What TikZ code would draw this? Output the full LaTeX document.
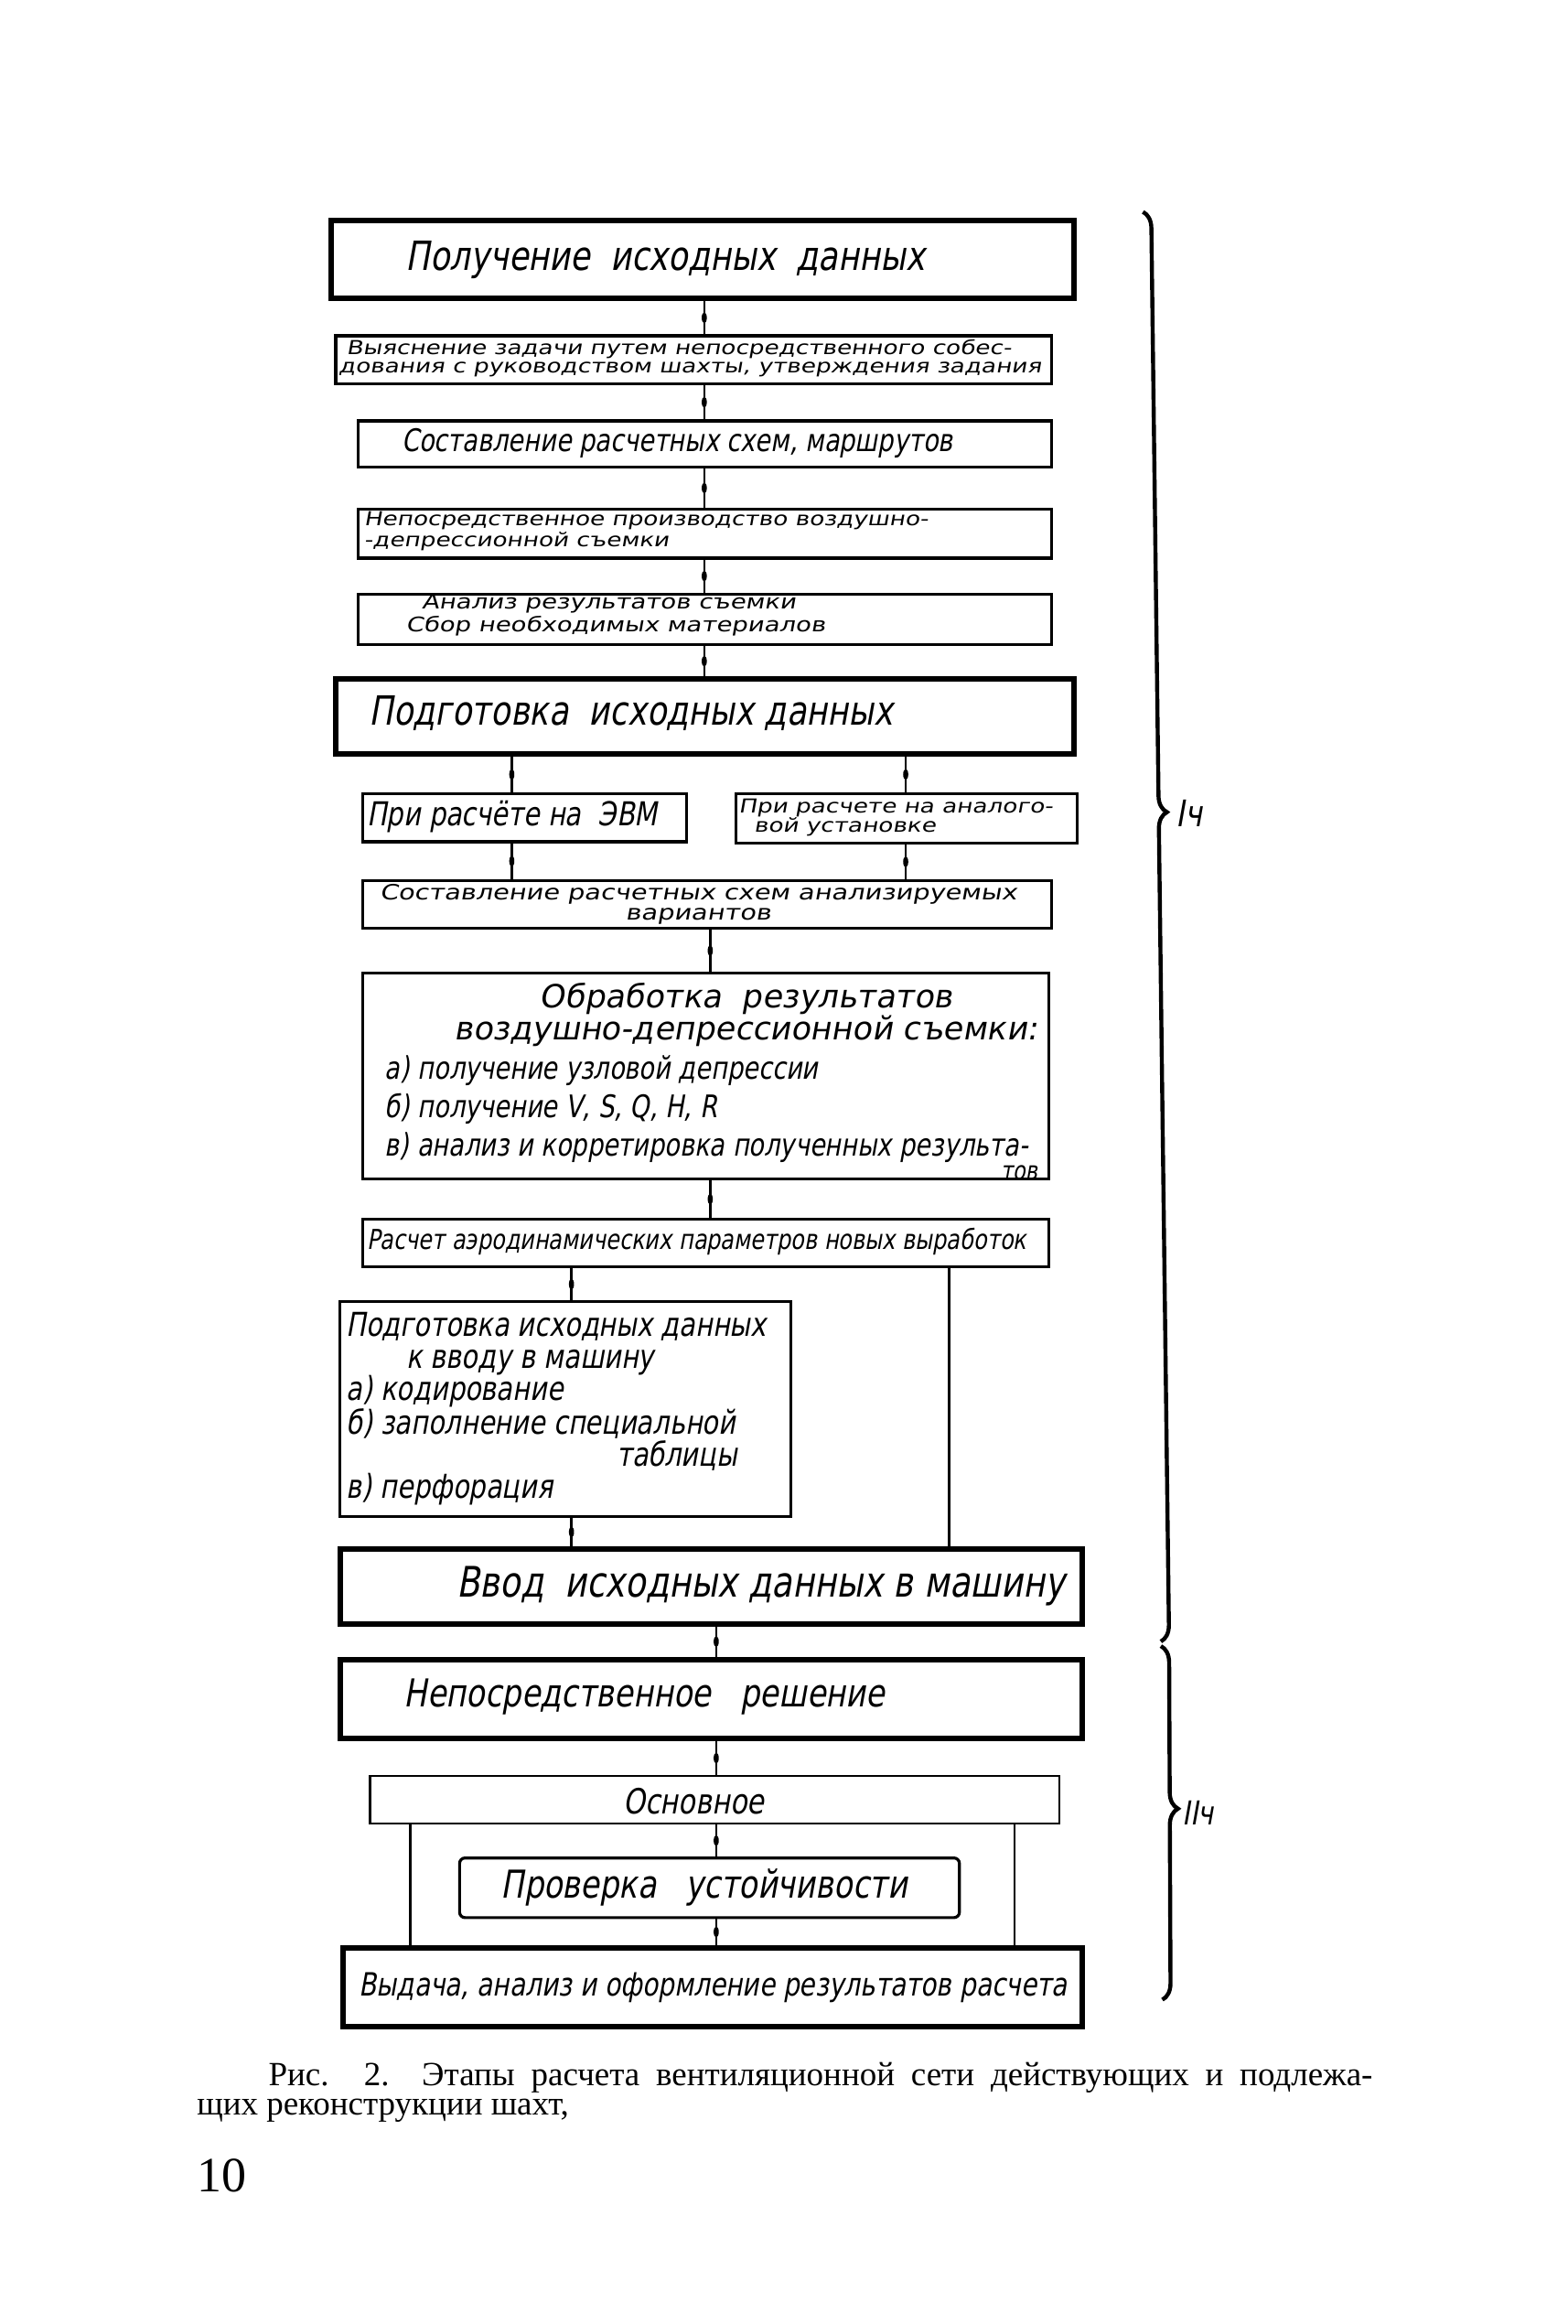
\documentclass[tikz,border=0pt]{standalone}
\usepackage{fontspec}
\setmainfont{Liberation Serif}
\newfontfamily\hand[FakeSlant=0.18,FakeStretch=0.8]{DejaVu Sans}
\newfontfamily\handm[FakeSlant=0.18,FakeStretch=1.0]{DejaVu Sans}
\newfontfamily\handw[FakeSlant=0.18,FakeStretch=1.25]{DejaVu Sans}
\usetikzlibrary{fit,decorations.pathreplacing,decorations.markings}
\newcommand\fsz[2]{\fontsize{#1pt}{#2pt}\selectfont}
\begin{document}
\begin{tikzpicture}[x=0.8157pt,y=-0.8157pt,
 thickbox/.style={draw,line width=3pt,inner sep=0pt},
 thinbox/.style={draw,line width=1.6pt,inner sep=0pt},
 lightbox/.style={draw,line width=1.1pt,inner sep=0pt},
 txt/.style={inner sep=0pt,outer sep=0pt},
 conn/.style={line width=1.3pt},
 blob/.style={postaction={decorate},decoration={markings,mark=at position 0.5 with {\fill (0,0) ellipse (3pt and 1.4pt);}}},
 bracel/.style={decorate,decoration={brace,amplitude=9pt,aspect=#1},line width=2.2pt},
]
\fill[white] (0,0) rectangle (1050.3,1557.3);
\useasboundingbox (0,0) rectangle (1050.3,1557.3);

% boxes
\node[thickbox,fit={(222,148) (720,200)}] (b1) {};
\node[thinbox,fit={(225,225) (705,257)}] (b2) {};
\node[thinbox,fit={(240,282) (705,313)}] (b3) {};
\node[thinbox,fit={(240,341) (705,374)}] (b4) {};
\node[thinbox,fit={(240,398) (705,432)}] (b5) {};
\node[thickbox,fit={(225,455) (720,505)}] (b6) {};
\node[thinbox,fit={(243,532) (460,564)}] (b7) {};
\node[thinbox,fit={(493,532) (722,565)}] (b8) {};
\node[thinbox,fit={(243,590) (705,622)}] (b9) {};
\node[thinbox,fit={(243,652) (703,790)}] (b10) {};
\node[thinbox,fit={(243,817) (703,849)}] (b11) {};
\node[thinbox,fit={(228,872) (530,1016)}] (b12) {};
\node[thickbox,fit={(228,1038) (725,1088)}] (b13) {};
\node[thickbox,fit={(228,1112) (725,1165)}] (b14) {};
\node[lightbox,fit={(248,1190) (710,1222)}] (b15) {};
\node[thinbox,rounded corners=3pt,fit={(308,1245) (643,1285)}] (b16) {};
\node[thickbox,fit={(230,1305) (725,1358)}] (b17) {};

% texts
\node[txt,font=\hand\fsz{22}{24}] (t1) at (446,174) {Получение\ \ исходных\ \ данных};
\node[txt,font=\handw\fsz{10.5}{10},align=left,anchor=west] (t2) at (227,240) {\ Выяснение задачи путем непосредственного собес-\\дования с руководством шахты, утверждения задания};
\node[txt,font=\hand\fsz{17}{19}] (t3) at (454,297) {Составление расчетных схем, маршрутов};
\node[txt,font=\handw\fsz{10.5}{10},align=left,anchor=west] (t4) at (244,356) {Непосредственное производство воздушно-\\-депрессионной съемки};
\node[txt,font=\handw\fsz{11}{12.5},align=left,anchor=west] (t5) at (272,412) {\ \ Анализ результатов съемки\\Сбор необходимых материалов};
\node[txt,font=\hand\fsz{22}{24}] (t6) at (423,478) {Подготовка\ \ исходных данных};
\node[txt,font=\hand\fsz{18}{20},anchor=west] (t7) at (246,547) {При расчёте на\ \ ЭВМ};
\node[txt,font=\handw\fsz{10.5}{10.5},align=left,anchor=west] (t8) at (495,548) {При расчете на аналого-\\\ \ вой установке};
\node[txt,font=\handw\fsz{11.5}{11},align=center] (t9) at (468,606) {Составление расчетных схем анализируемых\\вариантов};
\node[txt,font=\handm\fsz{17.5}{15.5},align=center] (t10a) at (500,680) {Обработка\ \ результатов\\воздушно-депрессионной съемки:};
\node[txt,font=\hand\fsz{17}{21},align=left,anchor=west] (t10b) at (258,743) {а) получение узловой депрессии\\б) получение V, S, Q, H, R\\в) анализ и корретировка полученных результа-};
\node[txt,font=\hand\fsz{14}{14}] (t10c) at (683,786) {тов};
\node[txt,font=\hand\fsz{15}{17}] (t11) at (467,832) {Расчет аэродинамических параметров новых выработок};
\node[txt,font=\hand\fsz{18}{17.5},align=left,anchor=west] (t12) at (232,944) {Подготовка исходных данных\\\hspace*{33pt}к вводу в машину\\а) кодирование\\б) заполнение специальной\\\hspace*{148pt}таблицы\\в) перфорация};
\node[txt,font=\hand\fsz{23}{25}] (t13) at (510,1063) {Ввод\ \ исходных данных в машину};
\node[txt,font=\hand\fsz{21}{23}] (t14) at (432,1137) {Непосредственное\ \ \ решение};
\node[txt,font=\hand\fsz{19}{21}] (t15) at (465,1207) {Основное};
\node[txt,font=\hand\fsz{21}{23}] (t16) at (472,1265) {Проверка\ \ \ устойчивости};
\node[txt,font=\hand\fsz{17.5}{20}] (t17) at (478,1332) {Выдача, анализ и оформление результатов расчета};

% connector x positions
\coordinate (xa) at (472,0);
\coordinate (xb) at (343,0);
\coordinate (xc) at (607,0);
\coordinate (xd) at (476,0);
\coordinate (xe) at (383,0);
\coordinate (xf) at (636,0);
\coordinate (xg) at (480,0);
\coordinate (xh) at (275,0);
\coordinate (xi) at (680,0);

\draw[conn,blob] (xa |- b1.south) -- (xa |- b2.north);
\draw[conn,blob] (xa |- b2.south) -- (xa |- b3.north);
\draw[conn,blob] (xa |- b3.south) -- (xa |- b4.north);
\draw[conn,blob] (xa |- b4.south) -- (xa |- b5.north);
\draw[conn,blob] (xa |- b5.south) -- (xa |- b6.north);
\draw[conn,blob] (xb |- b6.south) -- (xb |- b7.north);
\draw[conn,blob] (xc |- b6.south) -- (xc |- b8.north);
\draw[conn,blob] (xb |- b7.south) -- (xb |- b9.north);
\draw[conn,blob] (xc |- b8.south) -- (xc |- b9.north);
\draw[conn,blob] (xd |- b9.south) -- (xd |- b10.north);
\draw[conn,blob] (xd |- b10.south) -- (xd |- b11.north);
\draw[conn,blob] (xe |- b11.south) -- (xe |- b12.north);
\draw[conn] (xf |- b11.south) -- (xf |- b13.north);
\draw[conn,blob] (xe |- b12.south) -- (xe |- b13.north);
\draw[conn,blob] (xg |- b13.south) -- (xg |- b14.north);
\draw[conn,blob] (xg |- b14.south) -- (xg |- b15.north);
\draw[conn,blob] (xg |- b15.south) -- (xg |- b16.north);
\draw[conn,blob] (xg |- b16.south) -- (xg |- b17.north);
\draw[conn] (xh |- b15.south) -- (xh |- b17.north);
\draw[conn] (xi |- b15.south) -- (xi |- b17.north);

% braces
\coordinate (br1a) at (766,142);
\coordinate (br1b) at (778,1100);
\coordinate (br2a) at (778,1103);
\coordinate (br2b) at (779,1340);
\draw[bracel=0.42] (br1a) -- (br1b);
\draw[bracel=0.46] (br2a) -- (br2b);
\node[txt,font=\hand\fsz{20}{22}] (l1) at (797,545) {Iч};
\node[txt,font=\hand\fsz{18}{20}] (l2) at (803,1215) {IIч};

% caption
\node[txt,font=\fsz{18.5}{20},anchor=west] (cap1) at (180,1392) {\makebox[603.6pt][s]{Рис. 2.\ \ Этапы расчета вентиляционной сети действующих и подлежа-}};
\node[txt,font=\fsz{18.5}{20},anchor=west] (cap2) at (132,1414) {щих реконструкции шахт,};
\node[txt,font=\fsz{27}{29},anchor=west] (pg) at (132,1458) {10};
\end{tikzpicture}
\end{document}
